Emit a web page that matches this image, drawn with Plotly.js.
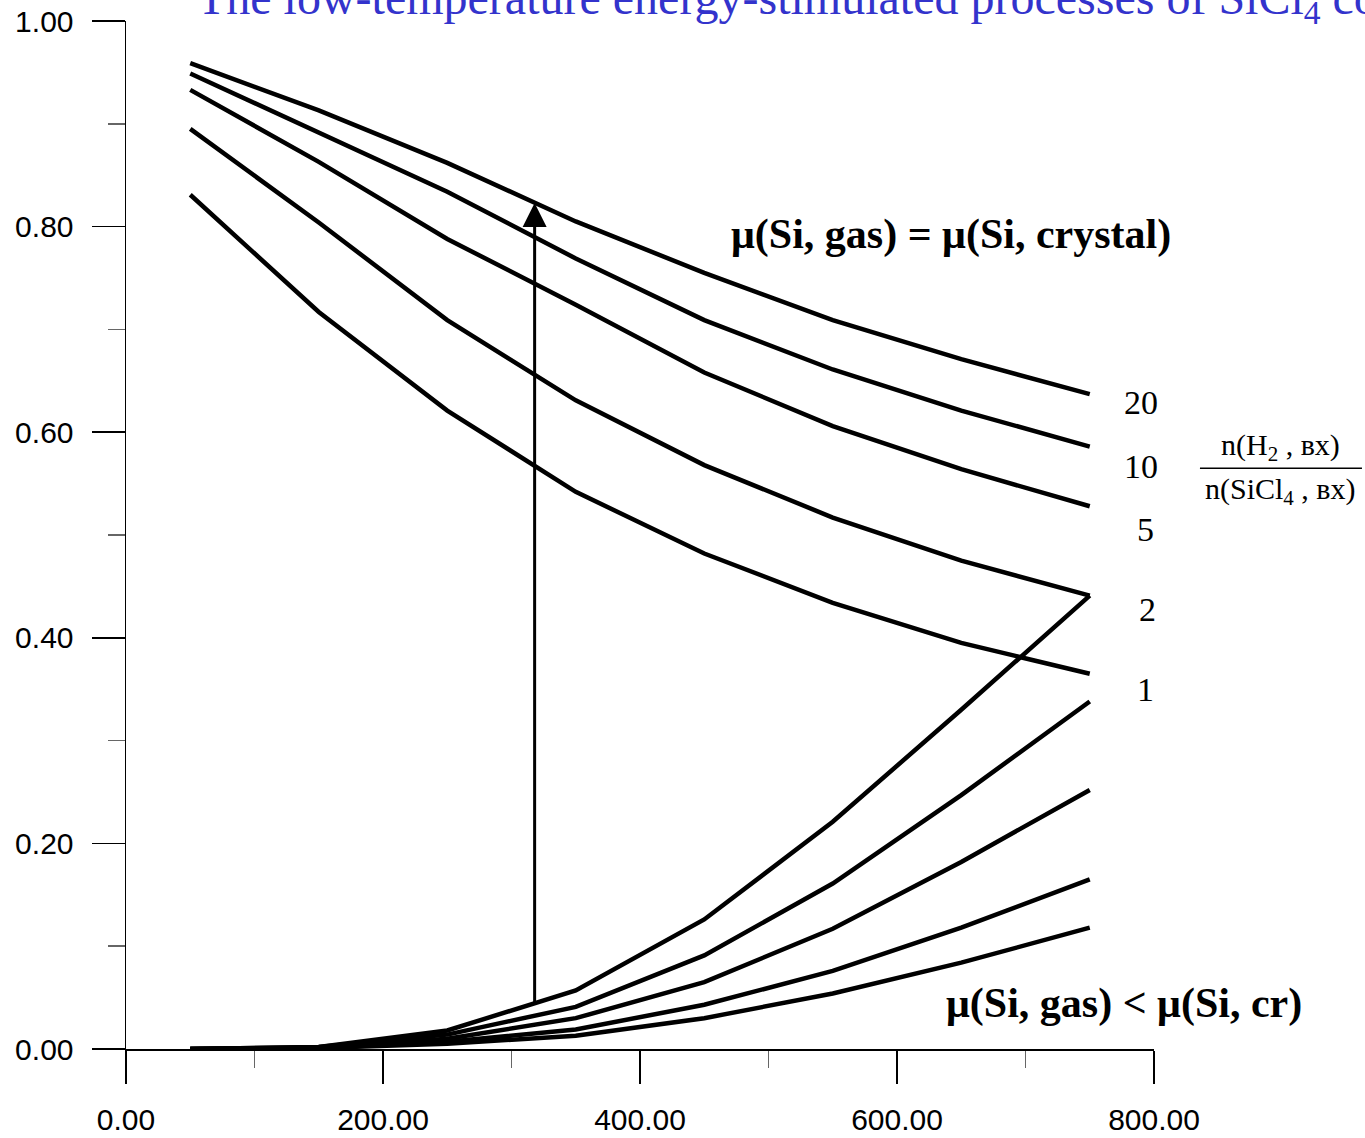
<!DOCTYPE html>
<html>
<head>
<meta charset="utf-8">
<script src="https://cdn.plot.ly/plotly-3.0.1.min.js"></script>
<style>
  html, body { margin: 0; padding: 0; background: #ffffff; }
  #chart { width: 1365px; height: 1138px; }
</style>
</head>
<body>
<div id="chart"></div>
<script>
// ---- data ----
const xValues = [50, 150, 250, 350, 450, 550, 650, 750];

// upper family: mu(Si, gas) = mu(Si, crystal), one curve per n(H2)/n(SiCl4) ratio
const ratioLabels = ["20", "10", "5", "2", "1"];
const upperRatio20 = [0.959, 0.913, 0.862, 0.805, 0.755, 0.709, 0.671, 0.637];
const upperRatio10 = [0.949, 0.892, 0.834, 0.769, 0.709, 0.661, 0.621, 0.586];
const upperRatio5  = [0.933, 0.863, 0.788, 0.724, 0.658, 0.606, 0.564, 0.528];
const upperRatio2  = [0.895, 0.804, 0.709, 0.631, 0.568, 0.517, 0.475, 0.441];
const upperRatio1  = [0.831, 0.717, 0.621, 0.542, 0.482, 0.434, 0.395, 0.365];

// lower family: mu(Si, gas) < mu(Si, cr)
const lowerCurveA = [0.000, 0.002, 0.018, 0.057, 0.126, 0.221, 0.330, 0.441];
const lowerCurveB = [0.000, 0.002, 0.014, 0.041, 0.091, 0.161, 0.247, 0.338];
const lowerCurveC = [0.000, 0.001, 0.010, 0.030, 0.065, 0.117, 0.182, 0.252];
const lowerCurveD = [0.000, 0.001, 0.007, 0.019, 0.043, 0.076, 0.118, 0.165];
const lowerCurveE = [0.000, 0.001, 0.005, 0.013, 0.030, 0.054, 0.084, 0.118];

// vertical arrow (from the lower family up to the upper family)
const arrowX = [318, 318];       // tail x, head x
const arrowY = [0.043, 0.823];   // tail y, head y

// axis ticks
const xTickVals = [0, 200, 400, 600, 800];
const xTickText = ["0.00", "200.00", "400.00", "600.00", "800.00"];
const yTickVals = [0, 0.2, 0.4, 0.6, 0.8, 1.0];
const yTickText = ["0.00", "0.20", "0.40", "0.60", "0.80", "1.00"];

// ---- traces ----
const upperSeries = [upperRatio20, upperRatio10, upperRatio5, upperRatio2, upperRatio1];
const lowerSeries = [lowerCurveA, lowerCurveB, lowerCurveC, lowerCurveD, lowerCurveE];
const lineStyle = { color: "#000000", width: 4.5 };

const traces = [];
upperSeries.forEach((ys, i) => {
  traces.push({ x: xValues, y: ys, type: "scatter", mode: "lines",
    name: "ratio " + ratioLabels[i], line: lineStyle, hoverinfo: "x+y" });
});
lowerSeries.forEach((ys, i) => {
  traces.push({ x: xValues, y: ys, type: "scatter", mode: "lines",
    name: "lower " + (i + 1), line: lineStyle, hoverinfo: "x+y" });
});

// ---- layout ----
const serif = "Liberation Serif, Times New Roman, serif";
const sans = "Liberation Sans, Arial, sans-serif";

const ratioLabelPos = [
  { x: 0.9874, y: 0.629 },
  { x: 0.9874, y: 0.567 },
  { x: 0.9922, y: 0.505 },
  { x: 0.9932, y: 0.428 },
  { x: 0.9922, y: 0.350 }
];

const annotations = [
  {
    x: arrowX[1], y: arrowY[1], ax: arrowX[0], ay: arrowY[0],
    xref: "x", yref: "y", axref: "x", ayref: "y",
    text: "", showarrow: true, arrowhead: 2, arrowsize: 1.6,
    arrowwidth: 3, arrowcolor: "#000000", standoff: 0, startstandoff: 0
  },
  {
    xref: "paper", yref: "paper", x: 0.8025, y: 0.792,
    xanchor: "center", yanchor: "middle", showarrow: false,
    text: "<b>μ(Si, gas) = μ(Si, crystal)</b>",
    font: { family: serif, size: 42, color: "#000000" }
  },
  {
    xref: "paper", yref: "paper", x: 0.9705, y: 0.0447,
    xanchor: "center", yanchor: "middle", showarrow: false,
    text: "<b>μ(Si, gas) &lt; μ(Si, cr)</b>",
    font: { family: serif, size: 42, color: "#000000" }
  },
  {
    xref: "paper", yref: "paper", x: 1.1226, y: 0.5856,
    xanchor: "center", yanchor: "middle", showarrow: false,
    text: "n(H<sub>2</sub> , вх)",
    font: { family: serif, size: 30, color: "#000000" }
  },
  {
    xref: "paper", yref: "paper", x: 1.1226, y: 0.543,
    xanchor: "center", yanchor: "middle", showarrow: false,
    text: "n(SiCl<sub>4</sub> , вх)",
    font: { family: serif, size: 30, color: "#000000" }
  }
];
ratioLabels.forEach((lab, i) => {
  annotations.push({
    xref: "paper", yref: "paper", x: ratioLabelPos[i].x, y: ratioLabelPos[i].y,
    xanchor: "center", yanchor: "middle", showarrow: false, text: lab,
    font: { family: serif, size: 34, color: "#000000" }
  });
});

const layout = {
  width: 1365,
  height: 1138,
  paper_bgcolor: "#ffffff",
  plot_bgcolor: "#ffffff",
  showlegend: false,
  margin: { l: 126, r: 211, t: 21, b: 89, pad: 0 },
  title: {
    text: "The low-temperature energy-stimulated processes of SiCl<sub>4</sub> conversion",
    font: { family: serif, size: 48, color: "#3333cc" },
    xref: "container", yref: "container",
    x: 0.1443, xanchor: "left",
    y: 0.9877, yanchor: "bottom",
    pad: { t: 0, b: 0, l: 0, r: 0 }
  },
  xaxis: {
    range: [0, 800],
    tickmode: "array", tickvals: xTickVals, ticktext: xTickText,
    ticks: "outside", ticklen: 33, tickwidth: 1.5, tickcolor: "#000000",
    ticklabelstandoff: 10,
    minor: { tick0: 0, dtick: 100, ticks: "outside", ticklen: 17, tickwidth: 1.5, tickcolor: "#666666", showgrid: false },
    showline: true, linecolor: "#000000", linewidth: 1.5,
    showgrid: false, zeroline: false,
    tickfont: { family: sans, size: 30, color: "#000000" }
  },
  yaxis: {
    range: [0, 1],
    tickmode: "array", tickvals: yTickVals, ticktext: yTickText,
    ticks: "outside", ticklen: 33, tickwidth: 1.5, tickcolor: "#000000",
    ticklabelstandoff: 12,
    minor: { tick0: 0, dtick: 0.1, ticks: "outside", ticklen: 17, tickwidth: 1.5, tickcolor: "#666666", showgrid: false },
    showline: true, linecolor: "#000000", linewidth: 1.5,
    showgrid: false, zeroline: false,
    tickfont: { family: sans, size: 30, color: "#000000" }
  },
  annotations: annotations,
  shapes: [
    { type: "line", xref: "paper", yref: "paper",
      x0: 1.0447, x1: 1.2023, y0: 0.565, y1: 0.565,
      line: { color: "#000000", width: 1.5 } }
  ]
};

Plotly.newPlot("chart", traces, layout, { displayModeBar: false, staticPlot: true });
</script>
</body>
</html>
